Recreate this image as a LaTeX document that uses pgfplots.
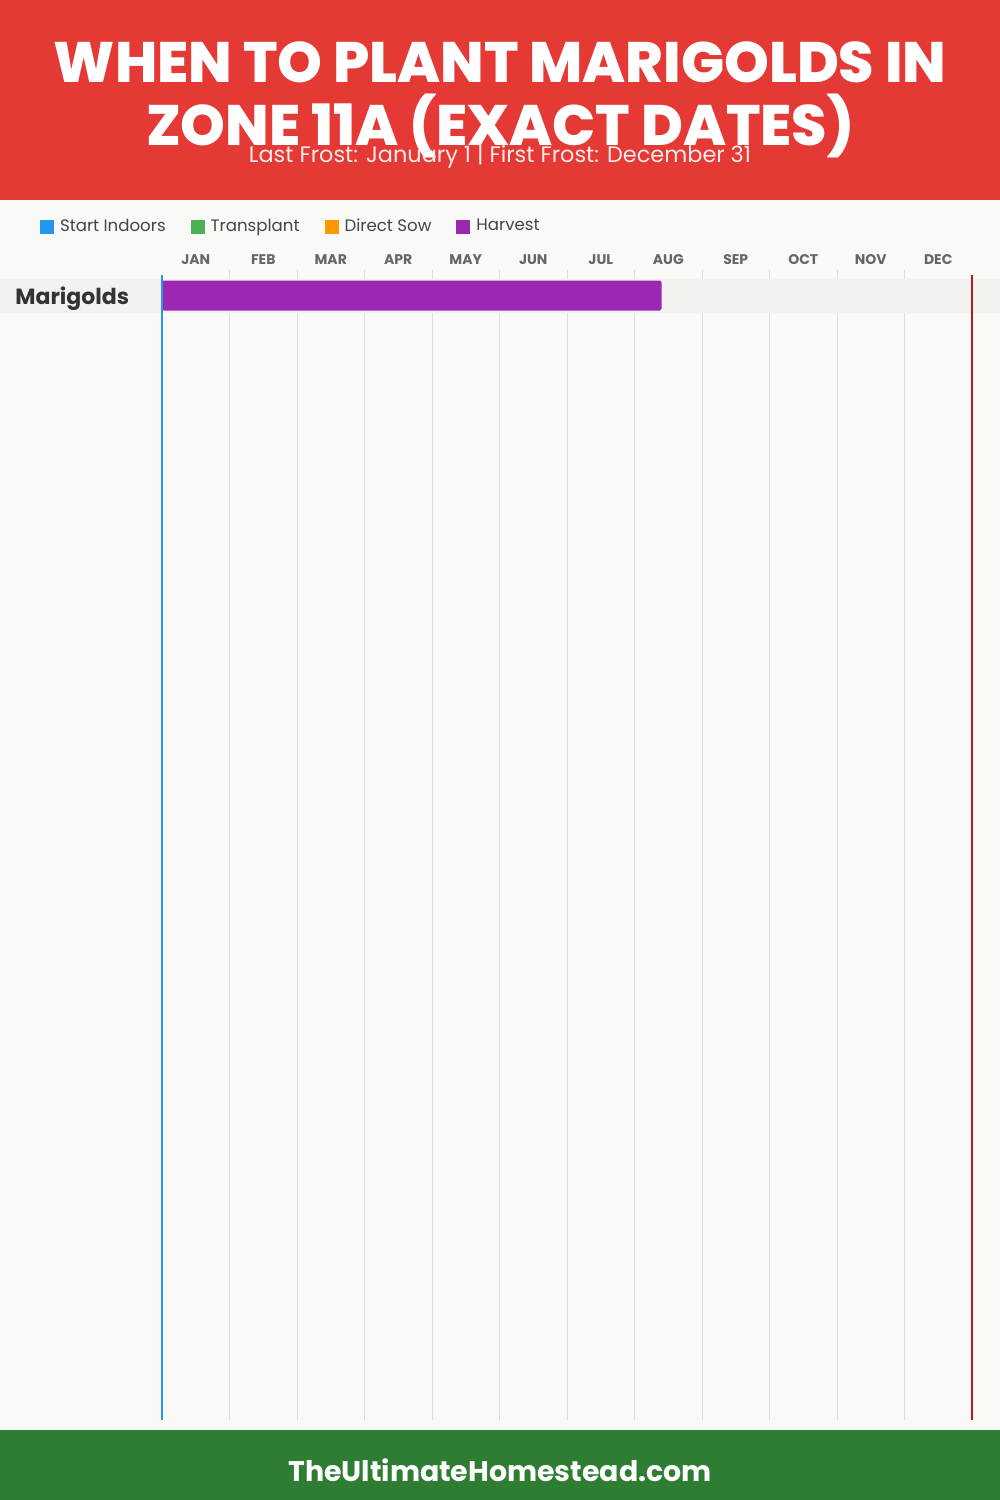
\documentclass[border=0pt]{standalone}
\usepackage{pgfplots}
\pgfplotsset{compat=1.18}
\usepackage{fontspec}
\setmainfont{Poppins}
\newfontfamily\titlefont{Poppins}[UprightFont={* ExtraBold}]
\definecolor{hdr}{HTML}{E53935}
\definecolor{ftr}{HTML}{2E7D32}
\definecolor{bgc}{HTML}{F9F9F7}
\definecolor{bandc}{HTML}{F2F2F1}
\definecolor{gridc}{HTML}{DDDDDD}
\definecolor{monthc}{HTML}{666666}
\definecolor{labelc}{HTML}{333333}
\definecolor{legc}{HTML}{444444}
\definecolor{startc}{HTML}{2196F3}
\definecolor{transc}{HTML}{4CAF50}
\definecolor{sowc}{HTML}{FF9800}
\definecolor{harvc}{HTML}{9C27B0}
\definecolor{frostred}{HTML}{B71C1C}
\begin{document}
\begin{tikzpicture}
\useasboundingbox (0,0) rectangle (500pt,-750pt);
\fill[bgc] (0,0) rectangle (500pt,-750pt);
\fill[hdr] (0,0) rectangle (500pt,-100pt);
\fill[ftr] (0,-715pt) rectangle (500pt,-750pt);
\fill[bandc] (0,-139.25pt) rectangle (500pt,-156.25pt);
\node[anchor=base, inner sep=0pt, text=white, font=\titlefont\fontsize{28.5}{28.5}\selectfont] at (250pt,-41pt) {WHEN TO PLANT MARIGOLDS IN};
\node[anchor=base, inner sep=0pt, text=white, font=\titlefont\fontsize{28.5}{28.5}\selectfont] at (250pt,-72.5pt) {ZONE 11A (EXACT DATES)};
\node[anchor=base, inner sep=0pt, text=white!90!hdr, font=\fontsize{11.2}{11.2}\selectfont] at (250pt,-81pt) {Last Frost: January 1 | First Frost: December 31};
\node[anchor=base, inner sep=0pt, text=white, font=\bfseries\fontsize{14.2}{14.2}\selectfont] at (250pt,-740.75pt) {TheUltimateHomestead.com};
\begin{axis}[
  at={(81pt,-710pt)}, anchor=south west,
  scale only axis, width=405pt, height=575pt,
  xmin=0, xmax=12, ymin=270, ymax=1420, y dir=reverse,
  clip=false,
  axis line style={draw=none},
  major tick length=0pt, minor tick length=0pt,
  xtick={0.5,1.5,2.5,3.5,4.5,5.5,6.5,7.5,8.5,9.5,10.5,11.5},
  xticklabels={JAN,FEB,MAR,APR,MAY,JUN,JUL,AUG,SEP,OCT,NOV,DEC},
  xticklabel pos=top,
  minor xtick={1,2,...,11},
  xminorgrids, minor grid style={draw=gridc, line width=0.5pt},
  ytick={295.5}, yticklabels={Marigolds},
  xticklabel style={font=\bfseries\fontsize{7}{7}\selectfont, text=monthc, anchor=base, yshift=3pt},
  yticklabel style={font=\bfseries\fontsize{11}{11}\selectfont, text=labelc, anchor=base west, inner sep=0pt, xshift=-73.5pt, yshift=-4.25pt},
  legend image code/.code={\fill[#1] (0pt,-3.5pt) rectangle (7pt,3.5pt);},
  legend columns=4,
  legend cell align=left,
  legend style={at={(axis description cs:-0.1506,1.0378)}, anchor=west, draw=none, fill=none, inner sep=0pt, outer sep=0pt,
    nodes={inner sep=0pt, text=legc, font=\fontsize{8.3}{10}\selectfont},
    /tikz/every odd column/.append style={column sep=3pt},
    /tikz/every even column/.append style={column sep=12.5pt}},
]
\addlegendimage{fill=startc, draw=none}
\addlegendentry{Start Indoors}
\addlegendimage{fill=transc, draw=none}
\addlegendentry{Transplant}
\addlegendimage{fill=sowc, draw=none}
\addlegendentry{Direct Sow}
\addlegendimage{fill=harvc, draw=none}
\addlegendentry{Harvest}
% row band over the month grid
\fill[bandc] (axis cs:0,278.5) rectangle (axis cs:12,312.5);
% Harvest: Jan 1 to about Aug 13 (months from Jan 1)
\addplot[xbar, bar width=30, bar shift=0pt, fill=harvc, draw=none, rounded corners=1pt, forget plot] coordinates {(7.40,295.5)};
% Last frost (Jan 1) and first frost (Dec 31)
\addplot[draw=startc, line width=1pt, forget plot] coordinates {(0,275) (0,1420)};
\addplot[draw=frostred, line width=1pt, forget plot] coordinates {(12,275) (12,1420)};
\end{axis}
\end{tikzpicture}
\end{document}
